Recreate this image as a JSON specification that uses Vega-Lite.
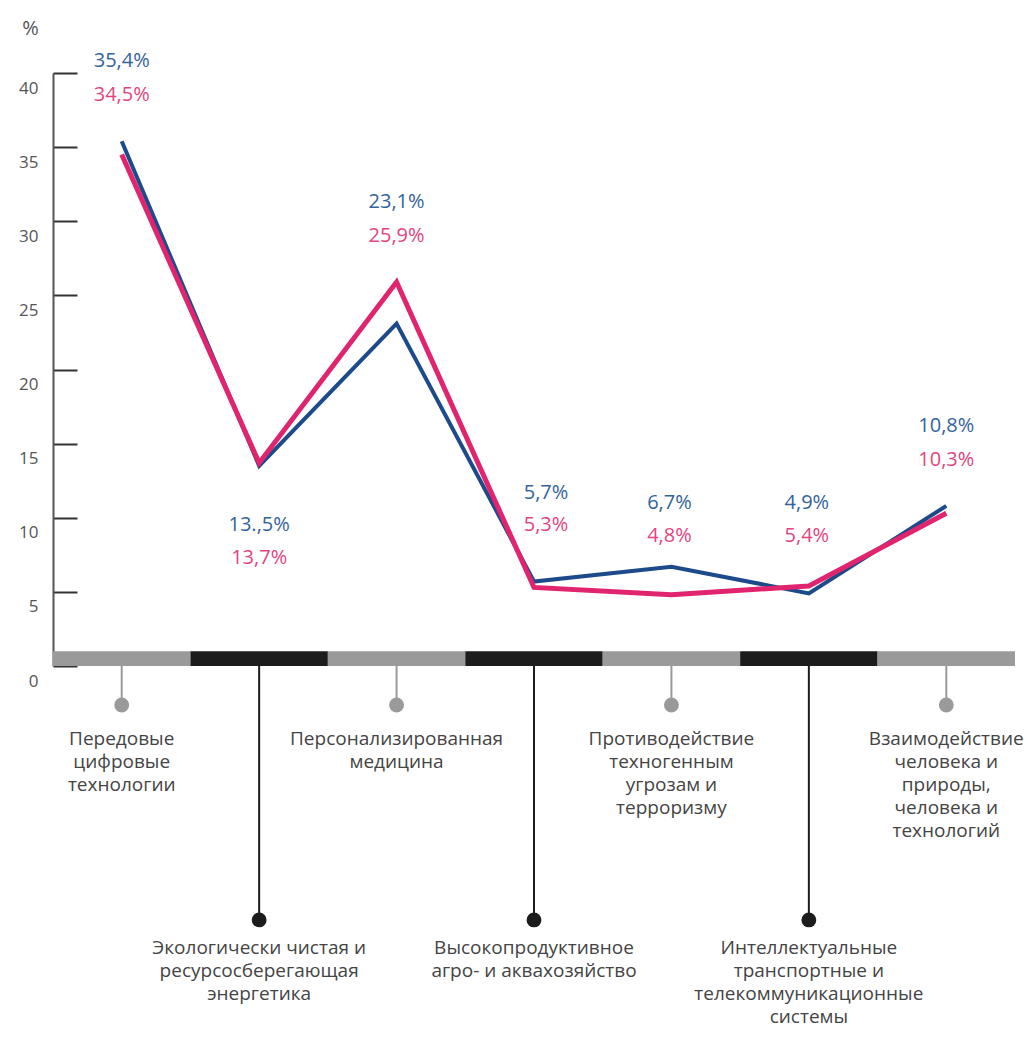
{
  "$schema": "https://vega.github.io/schema/vega-lite/v6.json",
  "width": 962,
  "height": 593,
  "autosize": {"type": "none"},
  "padding": {"left": 53, "top": 73, "right": 14, "bottom": 376},
  "background": "white",
  "config": {"view": {"stroke": null}, "font": "Open Sans"},
  "data": {
    "values": [
      {"n": 1, "row": "top", "topic": "Передовые\nцифровые\nтехнологии", "a": 35.4, "b": 34.5, "la": "35,4%", "lb": "34,5%"},
      {"n": 2, "row": "bottom", "topic": "Экологически чистая и\nресурсосберегающая\nэнергетика", "a": 13.5, "b": 13.7, "la": "13.,5%", "lb": "13,7%"},
      {"n": 3, "row": "top", "topic": "Персонализированная\nмедицина", "a": 23.1, "b": 25.9, "la": "23,1%", "lb": "25,9%"},
      {"n": 4, "row": "bottom", "topic": "Высокопродуктивное\nагро- и аквахозяйство", "a": 5.7, "b": 5.3, "la": "5,7%", "lb": "5,3%"},
      {"n": 5, "row": "top", "topic": "Противодействие\nтехногенным\nугрозам и\nтерроризму", "a": 6.7, "b": 4.8, "la": "6,7%", "lb": "4,8%"},
      {"n": 6, "row": "bottom", "topic": "Интеллектуальные\nтранспортные и\nтелекоммуникационные\nсистемы", "a": 4.9, "b": 5.4, "la": "4,9%", "lb": "5,4%"},
      {"n": 7, "row": "top", "topic": "Взаимодействие\nчеловека и\nприроды,\nчеловека и\nтехнологий", "a": 10.8, "b": 10.3, "la": "10,8%", "lb": "10,3%"}
    ]
  },
  "transform": [{"calculate": "max(datum.a, datum.b)", "as": "hi"}],
  "encoding": {
    "x": {"field": "n", "type": "ordinal", "scale": {"type": "band", "paddingInner": 0, "paddingOuter": 0}, "axis": null}
  },
  "layer": [
    {
      "mark": {"type": "line", "color": "#1d4a8a", "strokeWidth": 4},
      "encoding": {
        "y": {
          "field": "a", "type": "quantitative",
          "scale": {"domain": [0, 40], "nice": false, "zero": true},
          "axis": {
            "values": [0, 5, 10, 15, 20, 25, 30, 35, 40],
            "title": "%", "titleAngle": 0, "titleX": -23, "titleY": -45,
            "titleAlign": "center", "titleBaseline": "middle",
            "titleFontSize": 20, "titleFontWeight": "normal", "titleColor": "#555",
            "tickSize": -24, "tickWidth": 2, "tickColor": "#333",
            "domainColor": "#555", "domainWidth": 2,
            "labelPadding": 39, "labelOffset": 15, "labelFontSize": 17,
            "labelColor": "#555", "labelAlign": "right", "labelBaseline": "middle",
            "grid": false
          }
        }
      }
    },
    {
      "mark": {"type": "line", "color": "#e0246e", "strokeWidth": 5},
      "encoding": {"y": {"field": "b", "type": "quantitative"}}
    },
    {
      "mark": {"type": "rect"},
      "encoding": {
        "y": {"datum": 0},
        "y2": {"datum": 1.0},
        "color": {"field": "row", "type": "nominal", "scale": {"domain": ["top", "bottom"], "range": ["#9a9a9a", "#1c1c1c"]}, "legend": null}
      }
    },
    {
      "transform": [{"filter": "datum.row == 'top'"}],
      "mark": {"type": "rule", "color": "#9a9a9a", "strokeWidth": 2},
      "encoding": {"y": {"datum": 0}, "y2": {"datum": -2.6}}
    },
    {
      "transform": [{"filter": "datum.row == 'bottom'"}],
      "mark": {"type": "rule", "color": "#1c1c1c", "strokeWidth": 2},
      "encoding": {"y": {"datum": 0}, "y2": {"datum": -17.1}}
    },
    {
      "transform": [{"filter": "datum.row == 'top'"}],
      "mark": {"type": "point", "filled": true, "opacity": 1, "color": "#9a9a9a", "size": 220},
      "encoding": {"y": {"datum": -2.63}}
    },
    {
      "transform": [{"filter": "datum.row == 'bottom'"}],
      "mark": {"type": "point", "filled": true, "opacity": 1, "color": "#1c1c1c", "size": 220},
      "encoding": {"y": {"datum": -17.13}}
    },
    {
      "transform": [{"filter": "datum.row == 'top'"}],
      "mark": {"type": "text", "lineBreak": "\n", "align": "center", "baseline": "top", "fontSize": 19, "lineHeight": 23, "color": "#444"},
      "encoding": {"y": {"datum": -4.3}, "text": {"field": "topic"}}
    },
    {
      "transform": [{"filter": "datum.row == 'bottom'"}],
      "mark": {"type": "text", "lineBreak": "\n", "align": "center", "baseline": "top", "fontSize": 19, "lineHeight": 23, "color": "#444"},
      "encoding": {"y": {"datum": -18.4}, "text": {"field": "topic"}}
    },
    {
      "transform": [{"filter": "datum.n == 1 || datum.n == 3 || datum.n == 7"}],
      "mark": {"type": "text", "align": "center", "baseline": "middle", "fontSize": 20, "color": "#33639c", "dy": -80},
      "encoding": {"y": {"field": "hi", "type": "quantitative"}, "text": {"field": "la"}}
    },
    {
      "transform": [{"filter": "datum.n == 1 || datum.n == 3 || datum.n == 7"}],
      "mark": {"type": "text", "align": "center", "baseline": "middle", "fontSize": 20, "color": "#e2457f", "dy": -46},
      "encoding": {"y": {"field": "hi", "type": "quantitative"}, "text": {"field": "lb"}}
    },
    {
      "transform": [{"filter": "datum.n == 2"}],
      "mark": {"type": "text", "align": "center", "baseline": "middle", "fontSize": 20, "color": "#33639c", "dy": 59},
      "encoding": {"y": {"field": "a", "type": "quantitative"}, "text": {"field": "la"}}
    },
    {
      "transform": [{"filter": "datum.n == 2"}],
      "mark": {"type": "text", "align": "center", "baseline": "middle", "fontSize": 20, "color": "#e2457f", "dy": 92},
      "encoding": {"y": {"field": "a", "type": "quantitative"}, "text": {"field": "lb"}}
    },
    {
      "transform": [{"filter": "datum.n == 4"}],
      "mark": {"type": "text", "align": "center", "baseline": "middle", "fontSize": 20, "color": "#33639c", "dx": 12},
      "encoding": {"y": {"datum": 11.7}, "text": {"field": "la"}}
    },
    {
      "transform": [{"filter": "datum.n == 4"}],
      "mark": {"type": "text", "align": "center", "baseline": "middle", "fontSize": 20, "color": "#e2457f", "dx": 12},
      "encoding": {"y": {"datum": 9.5}, "text": {"field": "lb"}}
    },
    {
      "transform": [{"filter": "datum.n == 5 || datum.n == 6"}],
      "mark": {"type": "text", "align": "center", "baseline": "middle", "fontSize": 20, "color": "#33639c", "dx": -2},
      "encoding": {"y": {"datum": 11.0}, "text": {"field": "la"}}
    },
    {
      "transform": [{"filter": "datum.n == 5 || datum.n == 6"}],
      "mark": {"type": "text", "align": "center", "baseline": "middle", "fontSize": 20, "color": "#e2457f", "dx": -2},
      "encoding": {"y": {"datum": 8.8}, "text": {"field": "lb"}}
    }
  ]
}
